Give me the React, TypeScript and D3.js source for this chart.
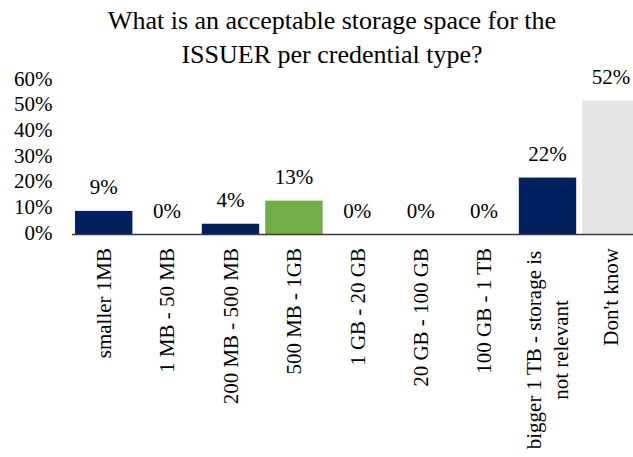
import React from "react";
import * as d3 from "d3";

const categories = [
  "smaller 1MB",
  "1 MB - 50 MB",
  "200 MB - 500 MB",
  "500 MB - 1GB",
  "1 GB - 20 GB",
  "20 GB - 100 GB",
  "100 GB - 1 TB",
  "bigger 1 TB - storage is|not relevant",
  "Don't know",
];
const values = [9, 0, 4, 13, 0, 0, 0, 22, 52];
const barColors = [
  "#002060", "#002060", "#002060", "#70AD47", "#002060",
  "#002060", "#002060", "#002060", "#E7E6E6",
];
const yTicks = [0, 10, 20, 30, 40, 50, 60];
const titleLines = [
  "What is an acceptable storage space for the",
  "ISSUER per credential type?",
];

const W = 633;
const H = 457;
const FONT = "'Liberation Serif', 'Times New Roman', serif";

export default function App() {
  const x = d3
    .scaleBand<string>()
    .domain(categories)
    .range([72, 642.6])
    .paddingInner(0.095)
    .paddingOuter(0.0475);
  const y = d3.scaleLinear().domain([0, 60]).range([234, 80]);

  return (
    <svg
      width={W}
      height={H}
      style={{ position: "absolute", left: 0, top: 0, display: "block", background: "#fff" }}
      fontFamily={FONT}
    >
      {/* title */}
      {titleLines.map((t, i) => (
        <text key={t} x={332} y={28.5 + i * 34} textAnchor="middle" fontSize={26} fill="#000">
          {t}
        </text>
      ))}

      {/* y tick labels */}
      {yTicks.map((t) => (
        <text key={t} x={52.5} y={y(t) + 5.8} textAnchor="end" fontSize={21} fill="#000">
          {t}%
        </text>
      ))}

      {/* bars */}
      {categories.map((c, i) => (
        <rect
          key={c}
          x={x(c)}
          y={y(values[i])}
          width={x.bandwidth()}
          height={y(0) - y(values[i])}
          fill={barColors[i]}
        />
      ))}

      {/* value labels */}
      {categories.map((c, i) => (
        <text
          key={c}
          x={(x(c) as number) + x.bandwidth() / 2}
          y={y(values[i]) - 16.5}
          textAnchor="middle"
          fontSize={21}
          fill="#000"
        >
          {values[i]}%
        </text>
      ))}

      {/* baseline */}
      <line x1={72} x2={642.6} y1={y(0) + 0.5} y2={y(0) + 0.5} stroke="#3a3a3a" strokeWidth={1.3} />

      {/* category labels, rotated */}
      {categories.map((c) => {
        const lines = c.split("|");
        const cx = (x(c) as number) + x.bandwidth() / 2;
        const lh = 27;
        return (
          <g key={c} transform={`translate(${cx},248) rotate(-90)`}>
            {lines.map((ln, j) => (
              <text
                key={ln}
                x={0}
                y={(j - (lines.length - 1) / 2) * lh}
                dy="0.35em"
                textAnchor={lines.length > 1 ? "middle" : "end"}
                fontSize={21}
                fill="#000"
                transform={lines.length > 1 ? "translate(-102,0)" : undefined}
              >
                {ln}
              </text>
            ))}
          </g>
        );
      })}
    </svg>
  );
}
